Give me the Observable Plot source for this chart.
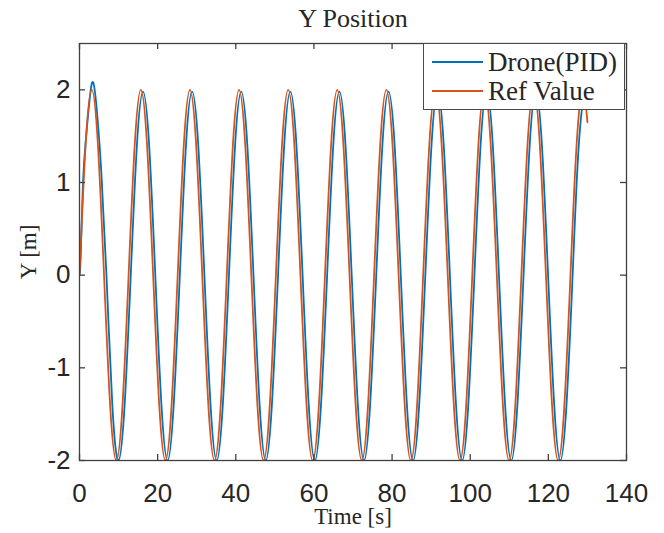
<!DOCTYPE html>
<html><head><meta charset="utf-8">
<script src="https://cdn.jsdelivr.net/npm/d3@7"></script>
<script src="https://cdn.jsdelivr.net/npm/@observablehq/plot@0.6"></script>
<style>
html,body{margin:0;padding:0;background:#fff;}
#wrap{position:relative;width:664px;height:533px;}
#legend{position:absolute;left:423px;top:43px;width:202px;height:67px;box-sizing:border-box;background:#fff;border:1.5px solid #4a4a4a;font-family:"Liberation Serif","Times New Roman",serif;font-size:27px;color:#262626;}
.row{position:absolute;left:8px;height:30px;display:flex;align-items:center;white-space:nowrap;}
.sw{width:51px;height:0;border-top:2px solid;margin-right:5px;}
</style></head><body><div id="wrap"></div>
<script>
const titleText = "Y Position";
const xLabel = "Time [s]";
const yLabel = "Y [m]";
const seriesNames = ["Drone(PID)", "Ref Value"];
const seriesColors = ["#0072BD", "#D95319"];
const xTicks = [0, 20, 40, 60, 80, 100, 120, 140];
const yTicks = [-2, -1, 0, 1, 2];

// Reference signal: times (s) and values (m)
const refT = [0, 1.57, 3.14, 4.71, 6.28, 7.85, 9.42, 11.00, 12.57, 14.14, 15.71, 17.28, 18.85, 20.42, 21.99, 23.56,
  25.13, 26.70, 28.27, 29.85, 31.42, 32.99, 34.56, 36.13, 37.70, 39.27, 40.84, 42.41, 43.98, 45.55, 47.12, 48.69,
  50.27, 51.84, 53.41, 54.98, 56.55, 58.12, 59.69, 61.26, 62.83, 64.40, 65.97, 67.54, 69.12, 70.69, 72.26, 73.83,
  75.40, 76.97, 78.54, 80.11, 81.68, 83.25, 84.82, 86.39, 87.96, 89.54, 91.11, 92.68, 94.25, 95.82, 97.39, 98.96,
  100.53, 102.10, 103.67, 105.24, 106.81, 108.38, 109.96, 111.53, 113.10, 114.67, 116.24, 117.81, 119.38, 120.95,
  122.52, 124.09, 125.66, 127.23, 128.81, 130.00];
const refY = [0, 1.41, 2, 1.41, 0, -1.41, -2, -1.41, 0, 1.41, 2, 1.41, 0, -1.41, -2, -1.41,
  0, 1.41, 2, 1.41, 0, -1.41, -2, -1.41, 0, 1.41, 2, 1.41, 0, -1.41, -2, -1.41,
  0, 1.41, 2, 1.41, 0, -1.41, -2, -1.41, 0, 1.41, 2, 1.41, 0, -1.41, -2, -1.41,
  0, 1.41, 2, 1.41, 0, -1.41, -2, -1.41, 0, 1.41, 2, 1.41, 0, -1.41, -2, -1.41,
  0, 1.41, 2, 1.41, 0, -1.41, -2, -1.41, 0, 1.41, 2, 1.41, 0, -1.41,
  -2, -1.41, 0, 1.41, 2, 1.65];

// Drone (PID) response: times (s) and values (m)
const droneT = [0, 0.3, 0.9, 1.6, 2.6, 3.5, 4.5, 5.6, 6.9, 8.40, 9.97, 11.55, 13.12, 14.69, 16.26,
  17.83, 19.40, 20.97, 22.54, 24.11, 25.68, 27.25, 28.82, 30.40, 31.97, 33.54, 35.11, 36.68, 38.25, 39.82,
  41.39, 42.96, 44.53, 46.10, 47.67, 49.24, 50.82, 52.39, 53.96, 55.53, 57.10, 58.67, 60.24, 61.81, 63.38,
  64.95, 66.52, 68.09, 69.67, 71.24, 72.81, 74.38, 75.95, 77.52, 79.09, 80.66, 82.23, 83.80, 85.37, 86.94,
  88.51, 90.09, 91.66, 93.23, 94.80, 96.37, 97.94, 99.51, 101.08, 102.65, 104.22, 105.79, 107.36, 108.93,
  110.51, 112.08, 113.65, 115.22, 116.79, 118.36, 119.93, 121.50, 123.07, 124.64, 126.21, 127.78, 129.36, 130.00];
const droneY = [0, 0.2, 1.0, 1.45, 1.9, 2.08, 1.75, 1.1, 0, -1.40, -2, -1.40, 0, 1.40, 1.98,
  1.40, 0, -1.40, -2, -1.40, 0, 1.40, 1.98, 1.40, 0, -1.40, -2, -1.40, 0, 1.40,
  1.98, 1.40, 0, -1.40, -2, -1.40, 0, 1.40, 1.98, 1.40, 0, -1.40, -2, -1.40, 0,
  1.40, 1.98, 1.40, 0, -1.40, -2, -1.40, 0, 1.40, 1.98, 1.40, 0, -1.40, -2, -1.40,
  0, 1.40, 1.98, 1.40, 0, -1.40, -2, -1.40, 0, 1.40, 1.98, 1.40, 0, -1.40,
  -2, -1.40, 0, 1.40, 1.98, 1.40, 0, -1.40, -2, -1.40, 0, 1.40, 1.98, 1.90];

const W = 664, H = 533, mL = 79, mR = 38, mT = 43, mB = 73;
const innerW = W - mL - mR, innerH = H - mT - mB, tk = 6;
const axisCol = "#404040", textCol = "#262626";
const sans = "'Liberation Sans', Arial, Helvetica, sans-serif";
const serif = "'Liberation Serif', 'Times New Roman', serif";

const drone = droneT.map((t, i) => ({t, y: droneY[i]}));
const ref = refT.map((t, i) => ({t, y: refY[i]}));

const chart = Plot.plot({
  width: W, height: H,
  marginLeft: mL, marginRight: mR, marginTop: mT, marginBottom: mB,
  style: {background: "#fff", color: textCol, overflow: "visible"},
  x: {domain: [0, 140]},
  y: {domain: [-2, 2.5]},
  marks: [
    Plot.line(drone, {x: "t", y: "y", stroke: seriesColors[0], strokeWidth: 1.8, curve: "natural", clip: true}),
    Plot.line(ref, {x: "t", y: "y", stroke: seriesColors[1], strokeWidth: 1.8, curve: "natural", clip: true}),
    Plot.frame({stroke: axisCol, strokeWidth: 1.3}),
    Plot.ruleX(xTicks, {x: d => d, insetTop: innerH - tk, stroke: axisCol, strokeWidth: 1.3}),
    Plot.ruleX(xTicks, {x: d => d, insetBottom: innerH - tk, stroke: axisCol, strokeWidth: 1.3}),
    Plot.ruleY(yTicks, {y: d => d, insetRight: innerW - tk, stroke: axisCol, strokeWidth: 1.3}),
    Plot.ruleY(yTicks, {y: d => d, insetLeft: innerW - tk, stroke: axisCol, strokeWidth: 1.3}),
    Plot.axisX(xTicks, {anchor: "bottom", tickSize: 0, tickPadding: 23, label: null, tickFormat: d => String(d), fontSize: 26, fontFamily: sans, fill: textCol}),
    Plot.axisY(yTicks, {anchor: "left", tickSize: 0, tickPadding: 9, label: null, tickFormat: d => String(d), fontSize: 26, fontFamily: sans, fill: textCol}),
    Plot.text([titleText], {frameAnchor: "top", lineAnchor: "middle", textAnchor: "middle", dy: -25, fontSize: 26, fontFamily: serif, fill: textCol}),
    Plot.text([xLabel], {frameAnchor: "bottom", lineAnchor: "middle", textAnchor: "middle", dy: 56, fontSize: 23, fontFamily: serif, fill: textCol}),
    Plot.text([yLabel], {frameAnchor: "left", lineAnchor: "middle", textAnchor: "middle", dx: -51, rotate: -90, fontSize: 23, fontFamily: serif, fill: textCol})
  ]
});
const wrap = document.getElementById("wrap");
wrap.appendChild(chart);

const legend = document.createElement("div");
legend.id = "legend";
seriesNames.forEach((name, i) => {
  const row = document.createElement("div");
  row.className = "row";
  row.style.top = (i === 0 ? 3 : 32) + "px";
  const sw = document.createElement("span");
  sw.className = "sw";
  sw.style.borderTopColor = seriesColors[i];
  const label = document.createElement("span");
  label.textContent = name;
  row.appendChild(sw);
  row.appendChild(label);
  legend.appendChild(row);
});
wrap.appendChild(legend);
</script></body></html>
